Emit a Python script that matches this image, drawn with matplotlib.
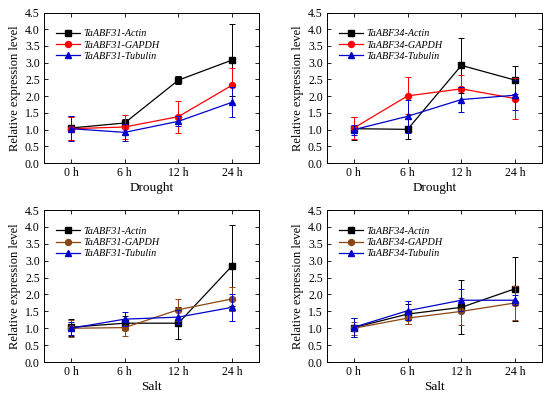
import numpy as np
import matplotlib
matplotlib.use("Agg")
from matplotlib import pyplot as plt

plt.rcParams['font.family'] = ['Liberation Serif', 'DejaVu Serif']

tiempos = ["0 h", "6 h", "12 h", "24 h"]

# Drought - TaABF31
d31_actin = [1.05, 1.20, 2.48, 3.08]
d31_actin_err = [0.37, 0.12, 0.12, 1.07]
d31_gapdh = [1.03, 1.08, 1.39, 2.33]
d31_gapdh_err = [0.35, 0.35, 0.48, 0.52]
d31_tub = [1.03, 0.92, 1.25, 1.82]
d31_tub_err = [0.38, 0.25, 0.15, 0.45]

# Drought - TaABF34
d34_actin = [1.03, 1.01, 2.92, 2.48]
d34_actin_err = [0.35, 0.30, 0.82, 0.42]
d34_gapdh = [1.05, 2.01, 2.22, 1.93]
d34_gapdh_err = [0.33, 0.55, 0.42, 0.60]
d34_tub = [1.00, 1.40, 1.90, 2.03]
d34_tub_err = [0.15, 0.50, 0.38, 0.45]

# Salt - TaABF31
s31_actin = [1.03, 1.15, 1.15, 2.85]
s31_actin_err = [0.25, 0.20, 0.48, 1.20]
s31_gapdh = [1.00, 1.02, 1.55, 1.87]
s31_gapdh_err = [0.25, 0.25, 0.33, 0.35]
s31_tub = [1.00, 1.27, 1.33, 1.62]
s31_tub_err = [0.20, 0.20, 0.20, 0.40]

# Salt - TaABF34
s34_actin = [1.02, 1.42, 1.62, 2.17]
s34_actin_err = [0.28, 0.30, 0.80, 0.95]
s34_gapdh = [1.00, 1.30, 1.50, 1.75]
s34_gapdh_err = [0.20, 0.18, 0.40, 0.50]
s34_tub = [1.03, 1.52, 1.83, 1.83]
s34_tub_err = [0.28, 0.28, 0.33, 0.15]

paneles = [
    ("TaABF31", "Drought", "red", [d31_actin, d31_gapdh, d31_tub], [d31_actin_err, d31_gapdh_err, d31_tub_err]),
    ("TaABF34", "Drought", "red", [d34_actin, d34_gapdh, d34_tub], [d34_actin_err, d34_gapdh_err, d34_tub_err]),
    ("TaABF31", "Salt", "#8B4513", [s31_actin, s31_gapdh, s31_tub], [s31_actin_err, s31_gapdh_err, s31_tub_err]),
    ("TaABF34", "Salt", "#8B4513", [s34_actin, s34_gapdh, s34_tub], [s34_actin_err, s34_gapdh_err, s34_tub_err]),
]

posiciones = [
    [0.080, 0.589, 0.391, 0.3795],
    [0.5945, 0.589, 0.391, 0.3795],
    [0.080, 0.088, 0.391, 0.383],
    [0.5945, 0.088, 0.391, 0.383],
]

fig = plt.figure(figsize=(5.5, 3.97), dpi=100)
x = np.arange(len(tiempos))

for i, (gen, cond, col_g, vals, errs) in enumerate(paneles):
    ax = fig.add_axes(posiciones[i])
    colores = ["black", col_g, "#0000CC"]
    marcas = ["s", "o", "^"]
    refs = ["Actin", "GAPDH", "Tubulin"]
    for v, e, c, m, r in zip(vals, errs, colores, marcas, refs):
        ax.errorbar(x, v, yerr=e, fmt="none", ecolor=c, elinewidth=0.7,
                    capsize=2, capthick=0.7)
        ax.plot(x, v, color=c, marker=m, markersize=4.3, lw=0.9, label=gen + "-" + r)
    ax.set_xlim(-0.5, 3.5)
    ax.set_ylim(0, 4.5)
    ax.set_yticks(np.arange(0, 4.51, 0.5))
    ax.set_yticklabels(["%.1f" % t for t in np.arange(0, 4.51, 0.5)])
    ax.set_xticks(x)
    ax.set_xticklabels(tiempos)
    ax.tick_params(direction="in", top=True, right=True, labelsize=8.5, length=3, width=0.6, pad=3)
    for s in ax.spines.values():
        s.set_linewidth(0.7)
    ax.set_ylabel("Relative expression level", fontsize=9, labelpad=3)
    ax.set_xlabel(cond, fontsize=9.5, labelpad=2)
    ax.legend(loc="upper left", frameon=False, prop={"style": "italic", "size": 7.3},
              handlelength=2.4, handletextpad=0.3, labelspacing=0.22,
              borderaxespad=0, borderpad=0, bbox_to_anchor=(0.055, 0.89))

plt.savefig("out.png", dpi=100)
